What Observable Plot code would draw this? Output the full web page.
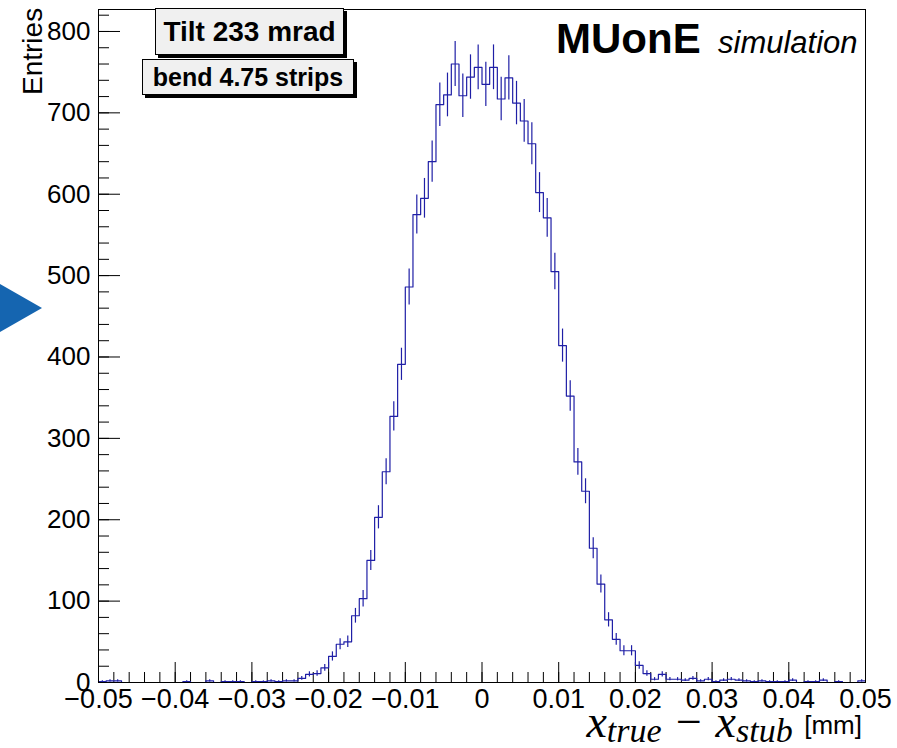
<!DOCTYPE html>
<html><head><meta charset="utf-8">
<script src="https://cdn.jsdelivr.net/npm/d3@7"></script>
<script src="https://cdn.jsdelivr.net/npm/@observablehq/plot@0.6"></script>
<style>
body{margin:0;background:#fff;}
#wrap{position:relative;width:897px;height:748px;overflow:hidden;font-family:"Liberation Sans",Arial,Helvetica,sans-serif;color:#000;}
#wrap svg{position:absolute;left:0;top:0;}
.box{position:absolute;background:#f0f0f0;border:1px solid #000;box-shadow:3px 3px 0 #000;font-weight:bold;display:flex;align-items:center;justify-content:center;white-space:nowrap;box-sizing:border-box;}
.abs{position:absolute;white-space:nowrap;}
.sub{font-size:34px;vertical-align:-5px;line-height:24px;}
</style></head><body><div id="wrap"></div>
<script>
// Histogram definition
const xMin = -0.05, xMax = 0.05, nBins = 100;
const yMax = 827;
// Bin contents (100 bins, left to right)
const counts = [
  1,2,2,0,0,0,0,0,0,0,
  0,1,0,0,2,0,1,1,1,0,
  1,1,2,1,2,2,5,10,11,18,
  32,47,50,82,103,150,203,259,327,391,
  486,575,595,640,710,722,760,721,744,756,
  735,756,717,743,712,690,662,602,571,505,
  414,352,271,235,165,121,77,53,39,39,
  21,11,4,10,4,4,3,5,2,4,
  1,3,4,3,2,1,2,1,1,1,
  3,0,1,1,3,0,1,0,0,2
];
// Axis ticks and labels
const xMajor = [-0.05,-0.04,-0.03,-0.02,-0.01,0,0.01,0.02,0.03,0.04,0.05];
const xLabels = ["\u22120.05","\u22120.04","\u22120.03","\u22120.02","\u22120.01","0","0.01","0.02","0.03","0.04","0.05"];
const xMinor = d3.range(0, 51).map(i => -0.05 + i * 0.002);
const yMajor = [0,100,200,300,400,500,600,700,800];
const yLabels = ["0","100","200","300","400","500","600","700","800"];
const yMinor = d3.range(0, 42).map(i => i * 20);

const w = (xMax - xMin) / nBins;
const steps = counts.map((c, i) => ({x: xMin + i * w, y: c}));
steps.push({x: xMax, y: counts[counts.length - 1]});
const errs = counts.map((c, i) => ({x: xMin + (i + 0.5) * w, y: c, lo: c - Math.sqrt(c), hi: c + Math.sqrt(c)})).filter(d => d.y > 0);

const col = "#1f1fa6";
const fmtX = d => xLabels[xMajor.findIndex(v => Math.abs(v - d) < 1e-9)];
const fmtY = d => yLabels[yMajor.indexOf(d)];

const chart = Plot.plot({
  width: 897, height: 748,
  marginLeft: 98, marginRight: 32, marginTop: 9, marginBottom: 66,
  x: {domain: [xMin, xMax]},
  y: {domain: [0, yMax]},
  style: {fontFamily: "'Liberation Sans', Arial, sans-serif", fontSize: "26px", color: "#000", background: "transparent", overflow: "visible"},
  marks: [
    Plot.axisX({ticks: xMinor, tickSize: -10, fill: "none", label: null}),
    Plot.axisX({ticks: xMajor, tickSize: -20, fill: "none", label: null}),
    Plot.axisX({ticks: xMajor, tickSize: 0, tickPadding: 6, tickFormat: fmtX, label: null, fontSize: 27}),
    Plot.axisY({ticks: yMinor, tickSize: -11, fill: "none", label: null}),
    Plot.axisY({ticks: yMajor, tickSize: -22, fill: "none", label: null}),
    Plot.axisY({ticks: yMajor, tickSize: 0, tickPadding: 8, tickFormat: fmtY, label: null, fontSize: 26}),
    Plot.ruleX(errs, {x: "x", y1: "lo", y2: "hi", stroke: col, strokeWidth: 1.2}),
    Plot.line(steps, {x: "x", y: "y", curve: "step-after", stroke: col, strokeWidth: 1.2}),
    Plot.frame({stroke: "#000", strokeWidth: 1})
  ]
});
const wrap = document.getElementById("wrap");
wrap.appendChild(chart);

function add(html, cls, style) {
  const d = document.createElement("div");
  d.className = cls;
  d.innerHTML = html;
  Object.assign(d.style, style);
  wrap.appendChild(d);
  return d;
}
// Y axis title
add("Entries", "abs", {left: "19px", top: "95px", fontSize: "28px", transform: "rotate(-90deg)", transformOrigin: "0 0", lineHeight: "28px"});
// Boxes
add("Tilt 233 mrad", "box", {left: "155px", top: "8px", width: "189px", height: "47px", fontSize: "28px"});
add("bend 4.75 strips", "box", {left: "142px", top: "59px", width: "212px", height: "36px", fontSize: "25px"});
// MUonE label
add("MUonE", "abs", {left: "556px", top: "15px", fontSize: "42px", fontWeight: "bold", lineHeight: "48px"});
add("simulation", "abs", {left: "718px", top: "25px", fontSize: "31px", fontStyle: "italic", lineHeight: "36px"});
// X axis title
add('<span style="font-family:\'Liberation Serif\',serif;font-style:italic">x<span class="sub">true</span> \u2212 x<span class="sub">stub</span></span> <span style="font-family:\'Liberation Sans\',Arial,sans-serif;font-size:26px;line-height:20px;vertical-align:3px">[mm]</span>', "abs", {right: "35px", top: "707px", fontSize: "46px", lineHeight: "30px", fontFamily: "'Liberation Serif',serif"});
// decorative arrow on the left edge
add("", "abs", {left: "0px", top: "284px", width: "42px", height: "48px", background: "#1565b0", clipPath: "polygon(0 0, 100% 50%, 0 100%)"});
</script></body></html>
